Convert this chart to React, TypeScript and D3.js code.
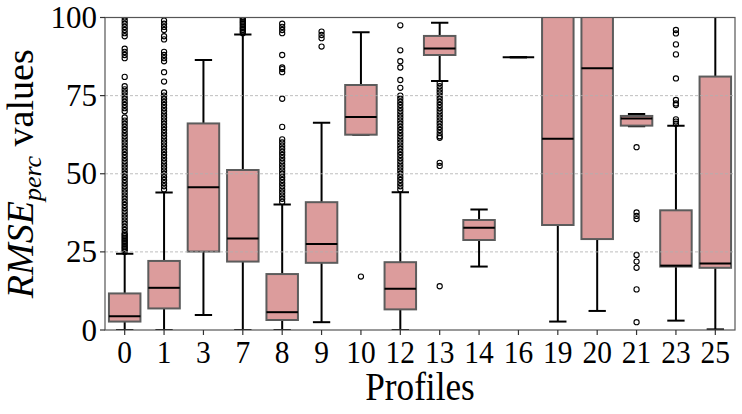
import * as d3 from 'd3';

// Profiles on the x axis
const profiles = ['0', '1', '3', '7', '8', '9', '10', '12', '13', '14', '16', '19', '20', '21', '23', '25'];

// box stats (values above 100 are clipped by the axis)
const q1 = [2.7, 6.9, 25.1, 21.9, 3.2, 21.5, 62.5, 6.6, 88, 28.8, 87.3, 33.6, 29.1, 65.4, 20.3, 19.9];
const medians = [4.4, 13.5, 45.7, 29.3, 5.7, 27.5, 68.2, 13.2, 90.1, 32.7, 87.3, 61.2, 83.8, 67.7, 20.6, 21.3];
const q3 = [11.7, 22.1, 66.1, 51.2, 17.9, 40.9, 78.4, 21.7, 94.1, 35.2, 87.3, 104, 104, 68.5, 38.3, 81.1];
const whiskerLow = [0, 0, 4.8, 0, 0, 2.5, 62.5, 0, 79.7, 20.3, 87.3, 2.7, 6.1, 65.2, 3, 0.2];
const whiskerHigh = [24.4, 44, 86.4, 94.6, 40.2, 66.3, 95.3, 44.1, 98.3, 38.6, 87.3, 104, 104, 69.1, 65.4, 104];

const outliers0 = [25, 25.5, 26, 26.5, 27, 27.5, 28, 28.5, 29, 29.5, 30, 30.5, 31, 32, 33, 34, 35, 36, 37, 38, 39, 40, 41, 42, 43, 44, 45, 46, 47, 48, 49, 50, 51, 52, 53, 54, 55, 56, 57, 58, 59, 60, 61, 62, 63, 64, 65, 66, 67, 68, 70, 71, 72, 73, 74, 75, 76, 77, 78, 81, 87, 88, 89, 90, 94, 95, 96, 97, 98, 99, 100];
const outliers1 = [45, 46, 47, 48, 49, 50, 51, 52, 53, 54, 55, 56, 57, 58, 59, 60, 61, 62, 63, 64, 65, 66, 67, 68, 69, 70, 71, 72, 73, 74, 75, 76, 79.5, 82.5, 86, 87, 88, 89, 93, 94, 96, 97, 98, 99];
const outliers7 = [95, 95.5, 96, 96.5, 97, 97.5, 98, 98.5, 99, 99.5, 100];
const outliers8 = [41, 42, 43, 44, 45, 46, 47, 48, 49, 50, 51, 52, 53, 54, 55, 56, 57, 58, 59, 60, 61, 65, 74, 82.5, 83.5, 84, 88, 95, 96, 97, 98];
const outliers9 = [90.7, 93.4, 94.4, 95.5];
const outliers10 = [17.1];
const outliers12 = [45, 46, 47, 48, 49, 50, 51, 52, 53, 54, 55, 56, 57, 58, 59, 60, 61, 62, 63, 64, 65, 66, 67, 68, 69, 70, 71, 72, 73, 74, 75, 77.5, 80, 84, 86, 89.5, 97.5];
const outliers13 = [14, 52.5, 53.5, 61.5, 62, 63, 64, 65, 66, 67, 68, 69, 70, 71, 72, 73, 74, 75, 76, 77, 78, 79];
const outliers21 = [58.5, 37.6, 36.5, 35.5, 24, 21.9, 19.9, 13, 2.5];
const outliers23 = [66, 66.7, 67.4, 72, 72.5, 73.6, 80.5, 88.2, 91.4, 94.9, 96];

const outliers: number[][] = [
  outliers0, outliers1, [], outliers7, outliers8, outliers9, outliers10, outliers12,
  outliers13, [], [], [], [], outliers21, outliers23, [],
];

const yTicks = [0, 25, 50, 75, 100];

const W = 742;
const H = 414;
const margin = { top: 17.5, right: 7, bottom: 84, left: 105 };
const FONT = '"Liberation Serif", "Times New Roman", serif';

export default function App() {
  const innerW = W - margin.left - margin.right;
  const innerH = H - margin.top - margin.bottom;

  const x = d3.scaleBand<string>().domain(profiles).range([0, innerW]).padding(0);
  const y = d3.scaleLinear().domain([0, 100]).range([innerH, 0]);

  const bw = x.bandwidth() * 0.8;
  const capW = bw * 0.55;
  const fill = '#dc9c9c';
  const edge = '#5c5c5c';

  return (
    <svg width={W} height={H} style={{ position: 'absolute', left: 0, top: 0 }} fontFamily={FONT}>
      <defs>
        <clipPath id="plot">
          <rect x={0} y={0} width={innerW} height={innerH} />
        </clipPath>
      </defs>
      <g transform={`translate(${margin.left},${margin.top})`}>
        <g clipPath="url(#plot)">
          {profiles.map((p, i) => {
            const cx = (x(p) ?? 0) + x.bandwidth() / 2;
            return (
              <g key={p}>
                {/* whiskers */}
                <line x1={cx} x2={cx} y1={y(whiskerLow[i])} y2={y(q1[i])} stroke="#000" strokeWidth={2} />
                <line x1={cx} x2={cx} y1={y(q3[i])} y2={y(whiskerHigh[i])} stroke="#000" strokeWidth={2} />
                <line x1={cx - capW / 2} x2={cx + capW / 2} y1={y(whiskerLow[i])} y2={y(whiskerLow[i])} stroke="#000" strokeWidth={2} />
                <line x1={cx - capW / 2} x2={cx + capW / 2} y1={y(whiskerHigh[i])} y2={y(whiskerHigh[i])} stroke="#000" strokeWidth={2} />
                {/* box */}
                <rect
                  x={cx - bw / 2}
                  y={y(q3[i])}
                  width={bw}
                  height={Math.max(0, y(q1[i]) - y(q3[i]))}
                  fill={fill}
                  stroke={edge}
                  strokeWidth={2}
                />
                <line x1={cx - bw / 2} x2={cx + bw / 2} y1={y(medians[i])} y2={y(medians[i])} stroke="#000" strokeWidth={2} />
                {outliers[i].map((v, k) => (
                  <circle key={k} cx={cx} cy={y(v)} r={2.6} fill="none" stroke="#000" strokeWidth={1.1} />
                ))}
              </g>
            );
          })}
        </g>

        {/* grid on top, faint */}
        {yTicks.slice(1, -1).map(t => (
          <line key={t} x1={0} x2={innerW} y1={y(t)} y2={y(t)} stroke="#b0b0b0" strokeWidth={1} strokeDasharray="3,2" opacity={0.8} />
        ))}

        {/* spines */}
        <rect x={0} y={0} width={innerW} height={innerH} fill="none" stroke="#555" strokeWidth={1.2} />

        {/* y axis */}
        {yTicks.map(t => (
          <g key={t} transform={`translate(0,${y(t)})`}>
            <line x1={-5} x2={0} stroke="#333" strokeWidth={1.2} />
            <text x={-8} dy="0.34em" textAnchor="end" fontSize={31} fill="#000">{t}</text>
          </g>
        ))}

        {/* x axis */}
        {profiles.map(p => {
          const cx = (x(p) ?? 0) + x.bandwidth() / 2;
          return (
            <g key={p} transform={`translate(${cx},${innerH})`}>
              <line y1={0} y2={5} stroke="#333" strokeWidth={1.2} />
              <text y={33} textAnchor="middle" fontSize={32} fill="#000" transform="scale(0.92,1)">{p}</text>
            </g>
          );
        })}

        <text
          transform={`translate(${innerW / 2},${innerH + 70}) scale(0.88,1)`}
          textAnchor="middle"
          fontSize={40}
          fill="#000"
        >
          Profiles
        </text>

        <text
          transform={`translate(${-72},${innerH / 2}) rotate(-90)`}
          textAnchor="middle"
          fontSize={38}
          fill="#000"
        >
          <tspan fontStyle="italic">RMSE</tspan>
          <tspan fontStyle="italic" fontSize={26} dy={8}>perc</tspan>
          <tspan dy={-8}> values</tspan>
        </text>
      </g>
    </svg>
  );
}
